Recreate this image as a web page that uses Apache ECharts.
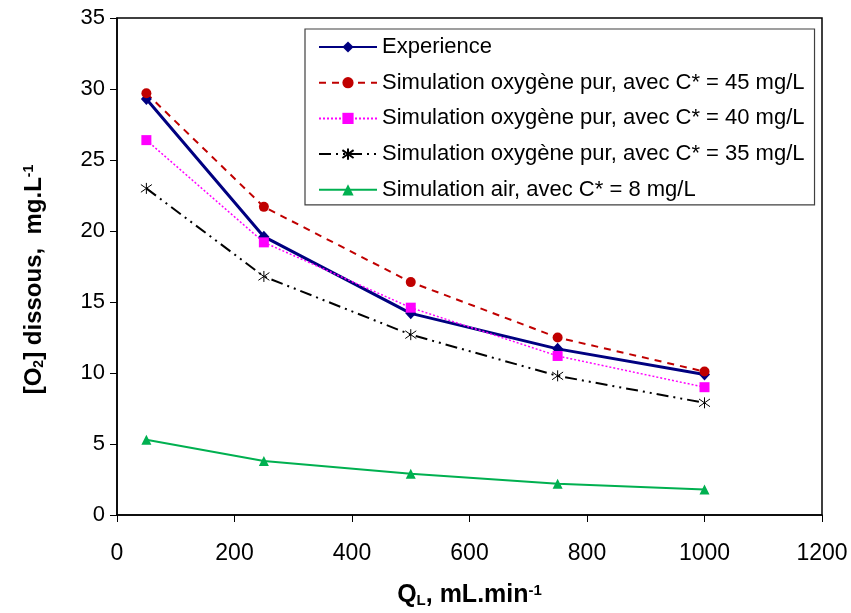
<!DOCTYPE html>
<html><head><meta charset="utf-8">
<script src="https://cdn.jsdelivr.net/npm/echarts@6/dist/echarts.min.js"></script>
<style>html,body{margin:0;padding:0;background:#fff}#c{width:851px;height:613px}</style>
</head><body><div id="c"></div>
<script>
const xValues = [50, 250, 500, 750, 1000];
const experience = [29.3, 19.6, 14.2, 11.7, 9.9];
const sim45 = [29.7, 21.7, 16.4, 12.5, 10.1];
const sim40 = [26.4, 19.2, 14.6, 11.2, 9.0];
const sim35 = [23.0, 16.8, 12.7, 9.8, 7.9];
const simAir = [5.3, 3.8, 2.9, 2.2, 1.8];
const names = [
  'Experience',
  'Simulation oxygène pur, avec C* = 45 mg/L',
  'Simulation oxygène pur, avec C* = 40 mg/L',
  'Simulation oxygène pur, avec C* = 35 mg/L',
  'Simulation air, avec C* = 8 mg/L'
];
const pair = arr => xValues.map((x, i) => [x, arr[i]]);
const FONT = '"Liberation Sans", Arial, sans-serif';
const asterisk = 'path://M5,0L5,10M1.5,1.5L8.5,8.5M1.5,8.5L8.5,1.5';

function rich(size, sub) {
  return {
    a: {fontFamily: FONT, fontSize: size, fontWeight: 'bold', color: '#000'},
    sub: {fontFamily: FONT, fontSize: sub, fontWeight: 'bold', color: '#000', verticalAlign: 'bottom', padding: [9, 0, 0, 0]},
    sup: {fontFamily: FONT, fontSize: sub, fontWeight: 'bold', color: '#000', verticalAlign: 'top', padding: [0, 0, 9, 0]}
  };
}

const chart = echarts.init(document.getElementById('c'), null, {renderer: 'canvas'});
chart.setOption({
  animation: false,
  backgroundColor: '#fff',
  textStyle: {fontFamily: FONT},
  grid: {left: 117, right: 29, top: 18, bottom: 97, show: true, borderColor: '#000', borderWidth: 1.5, containLabel: false},
  legend: {
    orient: 'vertical', left: 305, top: 29,
    padding: [6, 10, 3, 13],
    itemGap: 11.7, itemWidth: 58, itemHeight: 14,
    borderColor: '#404040', borderWidth: 1.2, backgroundColor: '#fff',
    textStyle: {fontFamily: FONT, fontSize: 22, color: '#000', lineHeight: 24},
    data: names
  },
  xAxis: {
    type: 'value', min: 0, max: 1200, interval: 200,
    axisLine: {lineStyle: {color: '#000', width: 1.5}},
    axisTick: {show: true, inside: false, length: 7, lineStyle: {color: '#000'}},
    axisLabel: {fontFamily: FONT, fontSize: 23, color: '#000', margin: 27, formatter: v => String(v)},
    splitLine: {show: false},
    name: '{a|Q}{sub|L}{a|, mL.min}{sup|-1}',
    nameLocation: 'middle', nameGap: 68,
    nameTextStyle: {rich: rich(25, 15)}
  },
  yAxis: {
    type: 'value', min: 0, max: 35, interval: 5,
    axisLine: {lineStyle: {color: '#000', width: 1.5}},
    axisTick: {show: true, inside: false, length: 7, lineStyle: {color: '#000'}},
    axisLabel: {fontFamily: FONT, fontSize: 22, color: '#000', margin: 12},
    splitLine: {show: false},
    name: '{a|[O}{sub|2}{a|] dissous,  mg.L}{sup|-1}',
    nameLocation: 'middle', nameGap: 71, nameRotate: 90,
    nameTextStyle: {rich: rich(24, 14), padding: [0, 26, 0, 0]}
  },
  series: [
    {name: names[0], type: 'line', data: pair(experience), symbol: 'diamond', symbolSize: [11, 12],
     lineStyle: {color: '#000080', width: 3}, itemStyle: {color: '#000080'}},
    {name: names[1], type: 'line', data: pair(sim45), symbol: 'circle', symbolSize: 10,
     lineStyle: {color: '#C00000', width: 2, type: [7, 6]}, itemStyle: {color: '#C00000'}},
    {name: names[2], type: 'line', data: pair(sim40), symbol: 'rect', symbolSize: 10,
     lineStyle: {color: '#FF00FF', width: 1.5, type: [2, 2]}, itemStyle: {color: '#FF00FF'}},
    {name: names[3], type: 'line', data: pair(sim35), symbol: asterisk, symbolSize: 11,
     lineStyle: {color: '#000', width: 2, type: [12, 5, 2, 5, 2, 5]},
     itemStyle: {color: 'rgba(0,0,0,0)', borderColor: '#000', borderWidth: 1}},
    {name: names[4], type: 'line', data: pair(simAir), symbol: 'triangle', symbolSize: 10,
     lineStyle: {color: '#00B050', width: 2}, itemStyle: {color: '#00B050'}}
  ]
});
</script></body></html>
